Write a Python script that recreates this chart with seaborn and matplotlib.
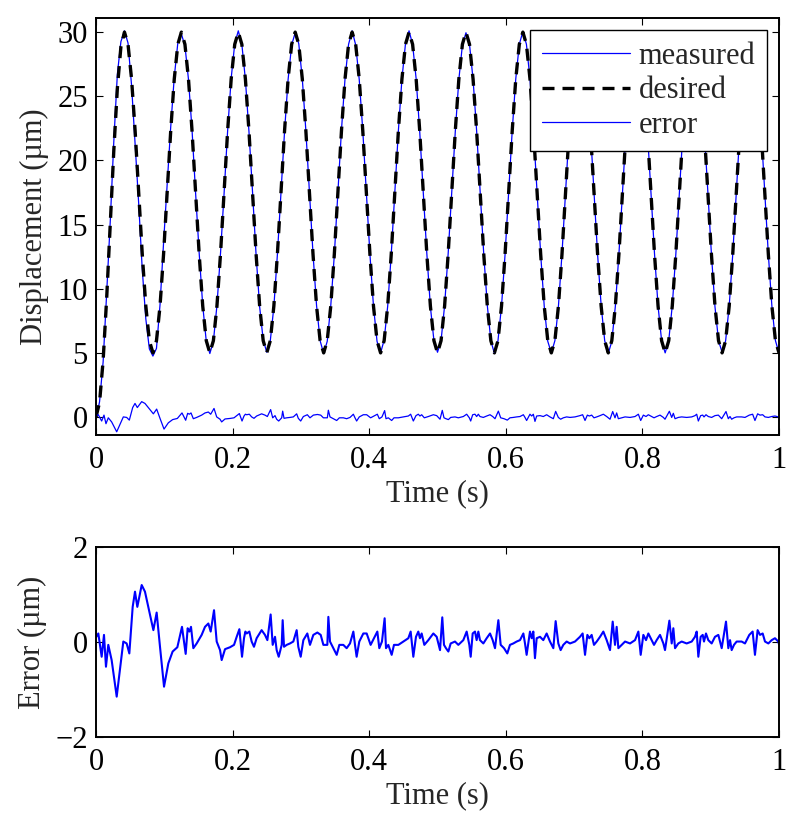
import numpy as np
import pandas as pd
import matplotlib
matplotlib.use("Agg")
import matplotlib.pyplot as plt
import seaborn as sns

# ---------------- data ----------------
time_s = np.linspace(0.0, 1.0, 193)   # sampling grid of the displacement traces

desired = [
    0.00, 1.14, 4.39, 9.26, 15.00, 20.74, 25.61, 28.86,
    30.00, 29.05, 26.34, 22.29, 17.50, 12.71, 8.66, 5.95, 5.00, 5.95, 8.66, 12.71, 17.50, 22.29, 26.34, 29.05,
    30.00, 29.05, 26.34, 22.29, 17.50, 12.71, 8.66, 5.95, 5.00, 5.95, 8.66, 12.71, 17.50, 22.29, 26.34, 29.05,
    30.00, 29.05, 26.34, 22.29, 17.50, 12.71, 8.66, 5.95, 5.00, 5.95, 8.66, 12.71, 17.50, 22.29, 26.34, 29.05,
    30.00, 29.05, 26.34, 22.29, 17.50, 12.71, 8.66, 5.95, 5.00, 5.95, 8.66, 12.71, 17.50, 22.29, 26.34, 29.05,
    30.00, 29.05, 26.34, 22.29, 17.50, 12.71, 8.66, 5.95, 5.00, 5.95, 8.66, 12.71, 17.50, 22.29, 26.34, 29.05,
    30.00, 29.05, 26.34, 22.29, 17.50, 12.71, 8.66, 5.95, 5.00, 5.95, 8.66, 12.71, 17.50, 22.29, 26.34, 29.05,
    30.00, 29.05, 26.34, 22.29, 17.50, 12.71, 8.66, 5.95, 5.00, 5.95, 8.66, 12.71, 17.50, 22.29, 26.34, 29.05,
    30.00, 29.05, 26.34, 22.29, 17.50, 12.71, 8.66, 5.95, 5.00, 5.95, 8.66, 12.71, 17.50, 22.29, 26.34, 29.05,
    30.00, 29.05, 26.34, 22.29, 17.50, 12.71, 8.66, 5.95, 5.00, 5.95, 8.66, 12.71, 17.50, 22.29, 26.34, 29.05,
    30.00, 29.05, 26.34, 22.29, 17.50, 12.71, 8.66, 5.95, 5.00, 5.95, 8.66, 12.71, 17.50, 22.29, 26.34, 29.05,
    30.00, 29.05, 26.34, 22.29, 17.50, 12.71, 8.66, 5.95, 5.00, 5.95, 8.66, 12.71, 17.50, 22.29, 26.34, 29.05,
    30.00, 29.05, 26.34, 22.29, 17.50, 12.71, 8.66, 5.95, 5.00,
]

measured = [
    -0.15, 1.19, 4.29, 9.66, 15.20, 21.44, 26.71, 29.26,
    30.10, 29.15, 25.84, 21.24, 16.65, 11.51, 7.66, 5.31, 4.75, 5.35, 8.76, 13.61, 18.05, 22.59, 26.49, 29.15,
    29.85, 28.95, 26.30, 22.35, 17.45, 12.80, 8.70, 5.90, 4.95, 5.90, 8.70, 12.75, 17.40, 22.30, 26.40, 29.10,
    30.10, 29.05, 26.30, 22.25, 17.55, 12.65, 8.60, 6.00, 5.05, 5.95, 8.60, 12.70, 17.55, 22.25, 26.30, 29.00,
    29.95, 29.10, 26.35, 22.30, 17.45, 12.75, 8.70, 5.95, 4.95, 5.90, 8.70, 12.65, 17.50, 22.35, 26.35, 29.05,
    30.10, 29.00, 26.30, 22.30, 17.55, 12.70, 8.65, 5.90, 5.00, 6.00, 8.65, 12.70, 17.45, 22.30, 26.35, 29.10,
    30.10, 29.05, 26.35, 22.25, 17.50, 12.75, 8.60, 5.95, 5.05, 5.95, 8.70, 12.75, 17.50, 22.25, 26.30, 29.00,
    29.95, 29.05, 26.30, 22.30, 17.45, 12.70, 8.70, 5.95, 4.95, 5.95, 8.65, 12.70, 17.55, 22.30, 26.35, 29.05,
    30.05, 29.05, 26.35, 22.25, 17.50, 12.70, 8.65, 5.90, 5.00, 5.95, 8.65, 12.75, 17.50, 22.30, 26.30, 29.05,
    30.00, 29.10, 26.35, 22.30, 17.45, 12.70, 8.70, 5.95, 4.95, 5.90, 8.65, 12.70, 17.50, 22.25, 26.35, 29.05,
    30.05, 29.00, 26.30, 22.30, 17.50, 12.75, 8.65, 5.95, 5.00, 5.95, 8.70, 12.70, 17.45, 22.30, 26.35, 29.10,
    30.00, 29.05, 26.35, 22.25, 17.55, 12.70, 8.60, 5.95, 5.05, 5.95, 8.65, 12.70, 17.50, 22.30, 26.30, 29.05,
    30.05, 29.05, 26.30, 22.30, 17.50, 12.70, 8.65, 5.95, 5.00,
]

err_time = [
    0.0000, 0.0034, 0.0083, 0.0117, 0.0146, 0.0180, 0.0229, 0.0303, 0.0400, 0.0449,
    0.0488, 0.0537, 0.0571, 0.0605, 0.0669, 0.0717, 0.0781, 0.0840, 0.0888, 0.0937,
    0.0996, 0.1059, 0.1122, 0.1191, 0.1259, 0.1313, 0.1342, 0.1367, 0.1391, 0.1425,
    0.1474, 0.1547, 0.1596, 0.1645, 0.1679, 0.1728, 0.1767, 0.1816, 0.1840, 0.1889,
    0.1962, 0.2021, 0.2060, 0.2099, 0.2138, 0.2167, 0.2187, 0.2206, 0.2245, 0.2279,
    0.2313, 0.2352, 0.2425, 0.2474, 0.2509, 0.2557, 0.2587, 0.2621, 0.2645, 0.2675,
    0.2719, 0.2733, 0.2753, 0.2792, 0.2840, 0.2889, 0.2938, 0.2962, 0.2997, 0.3036,
    0.3094, 0.3133, 0.3182, 0.3241, 0.3290, 0.3329, 0.3387, 0.3402, 0.3426, 0.3465,
    0.3524, 0.3563, 0.3621, 0.3670, 0.3719, 0.3768, 0.3792, 0.3816, 0.3855, 0.3914,
    0.3963, 0.4021, 0.4070, 0.4119, 0.4148, 0.4187, 0.4226, 0.4246, 0.4280, 0.4329,
    0.4363, 0.4427, 0.4500, 0.4573, 0.4607, 0.4646, 0.4685, 0.4719, 0.4743, 0.4768,
    0.4807, 0.4866, 0.4939, 0.4988, 0.5037, 0.5070, 0.5095, 0.5124, 0.5159, 0.5193,
    0.5256, 0.5305, 0.5378, 0.5427, 0.5466, 0.5486, 0.5515, 0.5549, 0.5573, 0.5598,
    0.5622, 0.5671, 0.5720, 0.5769, 0.5808, 0.5842, 0.5891, 0.5925, 0.5974, 0.6022,
    0.6061, 0.6110, 0.6159, 0.6208, 0.6257, 0.6281, 0.6305, 0.6354, 0.6379, 0.6403,
    0.6427, 0.6452, 0.6501, 0.6549, 0.6598, 0.6647, 0.6696, 0.6730, 0.6769, 0.6803,
    0.6842, 0.6891, 0.6940, 0.7013, 0.7086, 0.7125, 0.7160, 0.7194, 0.7223, 0.7257,
    0.7291, 0.7331, 0.7380, 0.7428, 0.7477, 0.7526, 0.7565, 0.7599, 0.7623, 0.7648,
    0.7697, 0.7746, 0.7819, 0.7892, 0.7941, 0.7975, 0.8014, 0.8053, 0.8087, 0.8121,
    0.8170, 0.8209, 0.8258, 0.8307, 0.8331, 0.8395, 0.8429, 0.8453, 0.8478, 0.8526,
    0.8575, 0.8648, 0.8722, 0.8770, 0.8795, 0.8819, 0.8853, 0.8883, 0.8902, 0.8931,
    0.8965, 0.9014, 0.9063, 0.9112, 0.9161, 0.9224, 0.9258, 0.9283, 0.9307, 0.9341,
    0.9380, 0.9453, 0.9502, 0.9565, 0.9614, 0.9648, 0.9687, 0.9722, 0.9761, 0.9795,
    0.9844, 0.9893, 0.9941, 0.9990, 1.0000,
]

err_value = [
    0.10, 0.18, -0.31, 0.15, -0.52, -0.06, -0.38, -1.15, 0.01, -0.03,
    -0.24, 0.74, 1.06, 0.74, 1.20, 1.06, 0.64, 0.25, 0.62, -0.10,
    -0.94, -0.45, -0.20, -0.11, 0.32, -0.25, 0.29, 0.22, 0.32, -0.13,
    -0.03, 0.15, 0.32, 0.39, 0.22, 0.67, 0.01, -0.17, -0.38, -0.15,
    -0.11, -0.06, 0.11, 0.27, -0.31, 0.08, 0.22, 0.18, 0.22, 0.01,
    -0.10, 0.08, 0.25, 0.15, 0.04, 0.58, -0.06, 0.11, -0.17, -0.31,
    -0.06, 0.46, -0.10, -0.06, -0.03, 0.01, 0.25, -0.10, -0.31, 0.04,
    0.18, -0.06, 0.15, 0.20, 0.15, -0.06, -0.06, 0.53, 0.01, -0.10,
    -0.27, -0.06, -0.06, -0.13, -0.03, 0.22, -0.06, -0.31, 0.01, 0.18,
    0.18, -0.06, 0.08, 0.22, -0.13, 0.01, 0.50, -0.13, -0.06, -0.27,
    -0.06, -0.06, 0.01, 0.08, 0.22, -0.31, 0.11, 0.22, 0.08, 0.18,
    -0.06, 0.04, 0.18, 0.11, -0.17, 0.52, -0.06, -0.13, -0.20, -0.03,
    0.01, -0.06, 0.04, 0.22, -0.06, -0.31, 0.18, 0.22, 0.04, 0.22,
    0.04, -0.03, 0.08, 0.18, 0.04, -0.13, 0.46, -0.06, -0.13, -0.24,
    -0.06, -0.03, 0.01, 0.04, 0.18, -0.03, -0.27, 0.22, 0.08, 0.22,
    -0.34, 0.08, 0.11, 0.04, 0.18, 0.01, -0.13, 0.44, -0.03, -0.17,
    -0.06, 0.01, -0.03, 0.01, 0.11, 0.18, -0.27, 0.15, 0.08, 0.15,
    -0.06, 0.01, 0.11, 0.22, 0.04, -0.17, 0.43, -0.06, 0.32, -0.13,
    -0.06, 0.01, -0.03, 0.04, 0.22, -0.27, 0.15, 0.04, 0.18, 0.08,
    -0.06, 0.04, 0.15, -0.03, -0.17, 0.45, -0.03, 0.29, -0.13, -0.03,
    0.01, -0.03, 0.01, 0.11, 0.22, -0.31, 0.11, 0.15, 0.01, 0.18,
    0.04, -0.03, 0.11, 0.15, -0.13, 0.43, -0.13, 0.04, -0.17, -0.06,
    0.01, 0.01, -0.03, 0.15, 0.22, -0.27, 0.25, 0.15, 0.18, 0.01,
    -0.03, 0.04, 0.08, 0.01, -0.05,
]

x_ticks = [0.0, 0.2, 0.4, 0.6, 0.8, 1.0]
x_tick_labels = ["0", "0.2", "0.4", "0.6", "0.8", "1"]
top_y_ticks = [0, 5, 10, 15, 20, 25, 30]
bottom_y_ticks = [-2, 0, 2]
series_labels = ["measured", "desired", "error"]

# ---------------- style ----------------
sns.set_style("ticks")
plt.rcParams["font.family"] = ["Liberation Serif", "DejaVu Serif"]
plt.rcParams["axes.unicode_minus"] = True
FS = 22

fig = plt.figure(figsize=(8, 8.22), dpi=100)
ax1 = fig.add_axes([0.12, 0.4708, 0.85375, 0.5073])
ax2 = fig.add_axes([0.12, 0.1034, 0.85375, 0.2311])

BLUE = "#0000ff"

sns.lineplot(x=time_s, y=measured, ax=ax1, color=BLUE, linewidth=0.9,
             label=series_labels[0], estimator=None, sort=False)
sns.lineplot(x=time_s, y=desired, ax=ax1, color="black", linewidth=2.4,
             linestyle=(0, (3.6, 2.4)), label=series_labels[1],
             estimator=None, sort=False)
sns.lineplot(x=err_time, y=err_value, ax=ax1, color=BLUE, linewidth=0.9,
             label=series_labels[2], estimator=None, sort=False)

sns.lineplot(x=err_time, y=err_value, ax=ax2, color=BLUE, linewidth=1.5,
             estimator=None, sort=False, legend=False)

for ax in (ax1, ax2):
    ax.set_xlim(0, 1)
    ax.set_xticks(x_ticks)
    ax.set_xticklabels(x_tick_labels)
    ax.tick_params(direction="in", top=True, right=True, length=5,
                   width=0.8, labelsize=FS, colors="black")
    ax.tick_params(axis="x", pad=8)
    ax.tick_params(axis="y", pad=6)
    for sp in ax.spines.values():
        sp.set_linewidth(1.4)
        sp.set_color("black")
    ax.set_xlabel("Time (s)", fontsize=FS, labelpad=3)

ax1.set_ylim(-1.4, 31.1)
ax1.set_yticks(top_y_ticks)
ax1.set_ylabel("Displacement (\u00b5m)", fontsize=FS, labelpad=6)

ax2.set_ylim(-2, 2)
ax2.set_yticks(bottom_y_ticks)
ax2.set_ylabel("Error (\u00b5m)", fontsize=FS, labelpad=6)

leg = ax1.legend(loc="upper right", fontsize=FS, fancybox=False,
                 edgecolor="black", framealpha=1.0, handlelength=2.9,
                 handletextpad=0.26, labelspacing=0.18, borderpad=0.38,
                 borderaxespad=0.4)
leg.get_frame().set_linewidth(1.0)

fig.savefig("out.png", dpi=100)
